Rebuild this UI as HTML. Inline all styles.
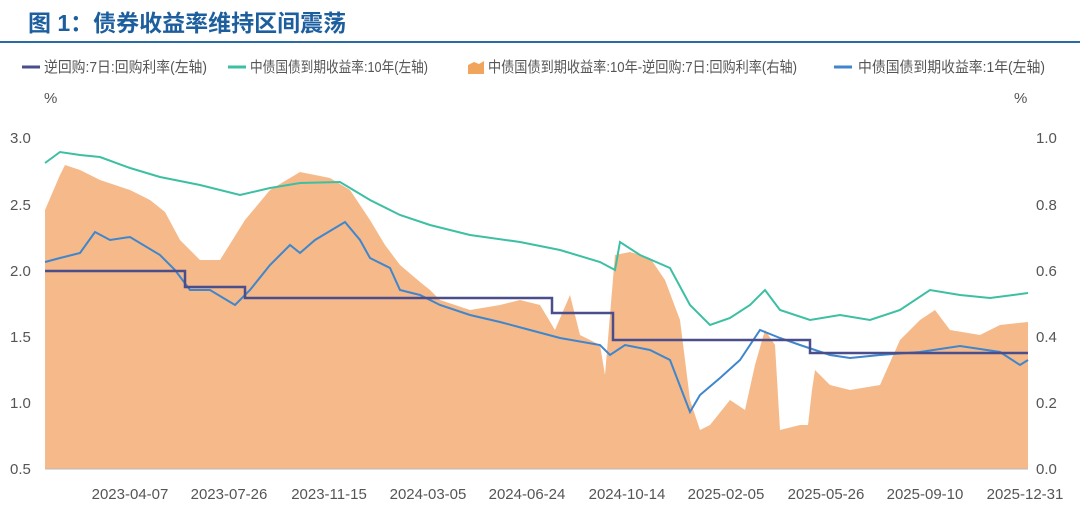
<!DOCTYPE html>
<html><head><meta charset="utf-8"><style>
body{margin:0;background:#fff;width:1080px;height:513px;overflow:hidden;font-family:"Liberation Sans","Noto Sans CJK SC",sans-serif}
</style></head><body>
<svg width="1080" height="513" xmlns="http://www.w3.org/2000/svg" font-family="Liberation Sans, Noto Sans CJK SC, sans-serif">
<text x="28" y="31" font-size="23" font-weight="bold" fill="#1d5f9e">图 1：债券收益率维持区间震荡</text>
<line x1="0" y1="42" x2="1080" y2="42" stroke="#2a6aa5" stroke-width="2"/>
<g font-size="15" fill="#555">
<line x1="22" y1="67" x2="40" y2="67" stroke="#4a4f8c" stroke-width="3"/><text x="44" y="72" textLength="163" lengthAdjust="spacingAndGlyphs">逆回购:7日:回购利率(左轴)</text>
<line x1="228" y1="67" x2="246" y2="67" stroke="#3dbfa3" stroke-width="3"/><text x="250" y="72" textLength="178" lengthAdjust="spacingAndGlyphs">中债国债到期收益率:10年(左轴)</text>
<path d="M468,74 L468,65 L474,62 L479,64 L484,61 L484,74Z" fill="#f0a45c"/><text x="488" y="72" textLength="309" lengthAdjust="spacingAndGlyphs">中债国债到期收益率:10年-逆回购:7日:回购利率(右轴)</text>
<line x1="834" y1="67" x2="852" y2="67" stroke="#3f86cc" stroke-width="3"/><text x="858" y="72" textLength="187" lengthAdjust="spacingAndGlyphs">中债国债到期收益率:1年(左轴)</text>
<text x="44" y="103">%</text><text x="1014" y="103">%</text>
<text x="10" y="143">3.0</text><text x="10" y="210">2.5</text><text x="10" y="276">2.0</text><text x="10" y="342">1.5</text><text x="10" y="408">1.0</text><text x="10" y="474">0.5</text>
<text x="1036" y="143">1.0</text><text x="1036" y="210">0.8</text><text x="1036" y="276">0.6</text><text x="1036" y="342">0.4</text><text x="1036" y="408">0.2</text><text x="1036" y="474">0.0</text>
<g text-anchor="middle">
<text x="130" y="499">2023-04-07</text><text x="229" y="499">2023-07-26</text><text x="329" y="499">2023-11-15</text><text x="428" y="499">2024-03-05</text><text x="527" y="499">2024-06-24</text><text x="627" y="499">2024-10-14</text><text x="726" y="499">2025-02-05</text><text x="826" y="499">2025-05-26</text><text x="925" y="499">2025-09-10</text><text x="1025" y="499">2025-12-31</text>
</g></g>
<path fill="#f5b98a" d="M45,469 L45,210 L60,175 L65,165 L80,170 L100,180 L130,190 L150,200 L165,212 L180,240 L200,260 L220,260 L245,220 L270,190 L300,172 L330,178 L350,190 L370,220 L385,245 L400,265 L420,282 L430,290 L440,300 L470,310 L500,305 L520,300 L540,305 L555,330 L570,295 L580,335 L600,345 L605,375 L615,255 L630,252 L650,258 L665,280 L680,320 L690,400 L700,430 L710,425 L730,400 L745,410 L755,365 L765,330 L775,345 L780,430 L800,425 L808,425 L812,390 L815,370 L830,385 L850,390 L880,385 L900,340 L920,320 L935,310 L950,330 L980,335 L1000,325 L1028,322 L1028,469Z"/>
<line x1="45" y1="469" x2="1028" y2="469" stroke="#bbb"/>
<polyline fill="none" stroke="#3dbfa3" stroke-width="2" points="45,163 60,152 80,155 100,157 130,168 160,177 200,185 240,195 270,188 300,183 340,182 370,200 400,215 430,225 470,235 520,242 560,250 600,262 615,270 620,242 640,255 670,268 690,305 710,325 730,318 750,305 765,290 780,310 810,320 840,315 870,320 900,310 930,290 960,295 990,298 1028,293"/>
<polyline fill="none" stroke="#3f86cc" stroke-width="2" points="45,262 60,258 80,253 95,232 110,240 130,237 160,255 175,270 190,290 210,290 235,305 250,290 270,265 290,245 300,253 315,240 335,228 345,222 360,240 370,258 390,268 400,290 420,295 440,305 470,315 500,322 530,330 560,338 600,345 610,355 625,345 650,350 670,360 690,412 700,395 720,378 740,360 760,330 780,338 800,345 830,355 850,358 880,355 920,352 960,346 1000,352 1020,365 1028,360"/>
<polyline fill="none" stroke="#4a4f8c" stroke-width="2.5" points="45,271 185,271 185,287 245,287 245,298 552,298 552,313 613,313 613,340 810,340 810,353 1028,353"/>
</svg>
</body></html>
